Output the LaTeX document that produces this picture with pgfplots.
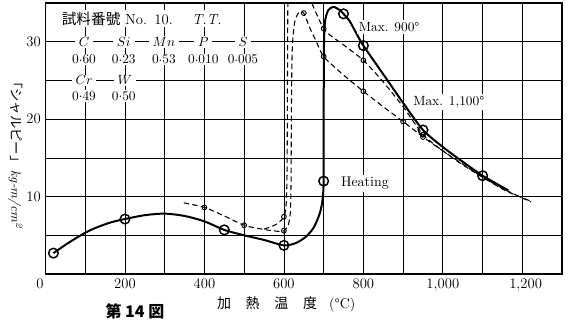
\documentclass[border=0pt]{standalone}
\usepackage{fontspec}
\newfontfamily\cjk{Noto Sans CJK JP}
\usepackage{pgfplots}
\pgfplotsset{compat=1.18}
\newcommand{\md}{\raisebox{0.42ex}{.}}
\begin{document}
\begin{tikzpicture}
\begin{axis}[
  name=ax,
  scale only axis, width=387.4pt, height=203.25pt,
  xmin=0, xmax=1300, ymin=0, ymax=35,
  xtick={0,100,...,1300},
  xticklabels={,,200,,400,,600,,800,,{1,000},,{\hspace{5pt}1,200},},
  ytick={0,5,...,35},
  yticklabels={,,10,,20,,30,},
  ticklabel style={font=\fontsize{11}{13}\selectfont},
  grid=major, grid style={black, line width=0.55pt},
  major tick length=0pt,
  axis line style={line width=0.9pt},
  xlabel={{\cjk 加\hspace{11pt}熱\hspace{11pt}温\hspace{11pt}度}\hspace{9pt}(°C)},
  xlabel style={at={(rel axis cs:0.466,0)}, anchor=center, yshift=-22.5pt, font=\fontsize{10.5}{12}\selectfont},
  clip=true,
]
% Heating (solid thick)
\addplot[black, line width=1.5pt, smooth, tension=0.45] coordinates {
 (20,2.7) (60,4.1) (110,5.6) (160,6.6) (200,7.1) (250,7.6) (300,7.8) (350,7.5)
 (400,6.8) (450,5.7) (500,5.0) (550,4.4) (600,3.7) (630,4.0) (655,4.8) (675,6.0)
 (690,7.8) (697,9.5) (700,12) (700,20) (701,30) (704,32.8) (712,34.1) (725,34.5)
 (740,34.1) (750,33.6) (765,32.7) (780,31.3) (800,29.5) (850,25.8) (900,22.1)
 (950,18.6) (1000,16.4) (1050,14.5) (1100,12.7) (1165,10.8)
};
% Curve A (dashed)
\addplot[black, line width=0.8pt, dash pattern=on 4pt off 2.5pt, smooth, tension=0.45] coordinates {
 (348,9.2) (400,8.6) (450,7.5) (500,6.3) (550,5.75) (590,5.5) (600,5.6) (610,6.2)
 (616,7.8) (618,12) (619,22) (621,29) (627,32.5) (638,33.8) (650,33.7) (665,31.8)
 (680,30.2) (700,28.1) (750,25.7) (800,23.6) (850,21.6) (900,19.7) (950,17.7)
 (1000,15.9) (1050,14.2) (1100,12.5) (1160,10.8) (1222,9.3)
};
% Curve B (dashed), part below the top
\addplot[black, line width=0.8pt, dash pattern=on 4pt off 2.5pt, smooth, tension=0.45] coordinates {
 (550,5.8) (580,6.4) (600,7.4) (606,9.2) (608,14) (609,25) (610,37)
};
\addplot[black, line width=0.8pt, dash pattern=on 4pt off 2.5pt, smooth, tension=0.4] coordinates {
 (654,37) (700,31.7) (750,29.6) (800,27.6) (850,24.8) (900,21.6) (950,18.0)
 (1000,15.9) (1050,14.1) (1100,12.5) (1160,10.7) (1222,9.4)
};
% small marks
\addplot[only marks, mark=o, mark size=1.8pt, black, line width=0.7pt, mark options={fill=white}] coordinates {
 (400,8.6) (500,6.3) (600,5.6) (650,33.7) (700,28.1) (800,23.6) (900,19.7) (950,17.7)
 (600,7.4) (700,31.7) (800,27.6) (950,18.0)
};
% big marks
\addplot[only marks, mark=o, mark size=3.6pt, black, line width=1.1pt, mark options={fill=white}] coordinates {
 (20,2.7) (200,7.1) (450,5.7) (600,3.7) (700,12) (750,33.6) (800,29.5) (950,18.6) (1100,12.7)
};
% annotations
\node[fill=white, inner sep=1pt, anchor=west, font=\fontsize{11}{13}\selectfont] at (axis cs:37,33.0) {{\cjk 試料番號}\ No.\ \,10.\quad\ \textit{T.T.}};
\node[fill=white, inner xsep=3pt, inner ysep=1pt] at (axis cs:97,30) {$C$};
\node[fill=white, inner xsep=3pt, inner ysep=1pt] at (axis cs:197,30) {$Si$};
\node[fill=white, inner xsep=3pt, inner ysep=1pt] at (axis cs:298,30) {$Mn$};
\node[fill=white, inner xsep=3pt, inner ysep=1pt] at (axis cs:397,30) {$P$};
\node[fill=white, inner xsep=3pt, inner ysep=1pt] at (axis cs:497,30) {$S$};
\node[fill=white, inner sep=1pt] at (axis cs:97,27.7) {0\md60};
\node[fill=white, inner sep=1pt] at (axis cs:197,27.7) {0\md23};
\node[fill=white, inner sep=1pt] at (axis cs:298,27.7) {0\md53};
\node[fill=white, inner sep=1pt] at (axis cs:397,27.7) {0\md010};
\node[fill=white, inner sep=1pt] at (axis cs:497,27.7) {0\md005};
\node[fill=white, inner xsep=3pt, inner ysep=1pt] at (axis cs:97,25) {$Cr$};
\node[fill=white, inner xsep=3pt, inner ysep=1pt] at (axis cs:200,25) {$W$};
\node[fill=white, inner sep=1pt] at (axis cs:97,23.0) {0\md49};
\node[fill=white, inner sep=1pt] at (axis cs:197,23.0) {0\md50};
\node[fill=white, inner sep=1.5pt] at (axis cs:865,31.9) {Max. 900°};
\node[fill=white, inner sep=1.5pt] at (axis cs:1015,22.2) {Max. 1,100°};
\node[fill=white, inner sep=1.5pt, anchor=west, font=\fontsize{10.5}{12}\selectfont] at (axis cs:738,11.7) {Heating};
\end{axis}
\node[font=\fontsize{11}{13}\selectfont] at ([shift={(-4.2pt,-7.6pt)}]ax.south west) {0};
\node[rotate=-90] at ([shift={(-22.5pt,91.5pt)}]ax.south west) {{\cjk 「シャルピー」}\,\textit{kg-m/cm\textsuperscript{2}}};
\node at ([shift={(67.1pt,-27.8pt)}]ax.south west) {\fontsize{12pt}{12pt}\selectfont\cjk\bfseries 第 14 図};
\pgfresetboundingbox
\path[use as bounding box] ([shift={(-34.1pt,-34.5pt)}]ax.south west) rectangle ([shift={(395.6pt,205.5pt)}]ax.south west);
\end{tikzpicture}
\end{document}
